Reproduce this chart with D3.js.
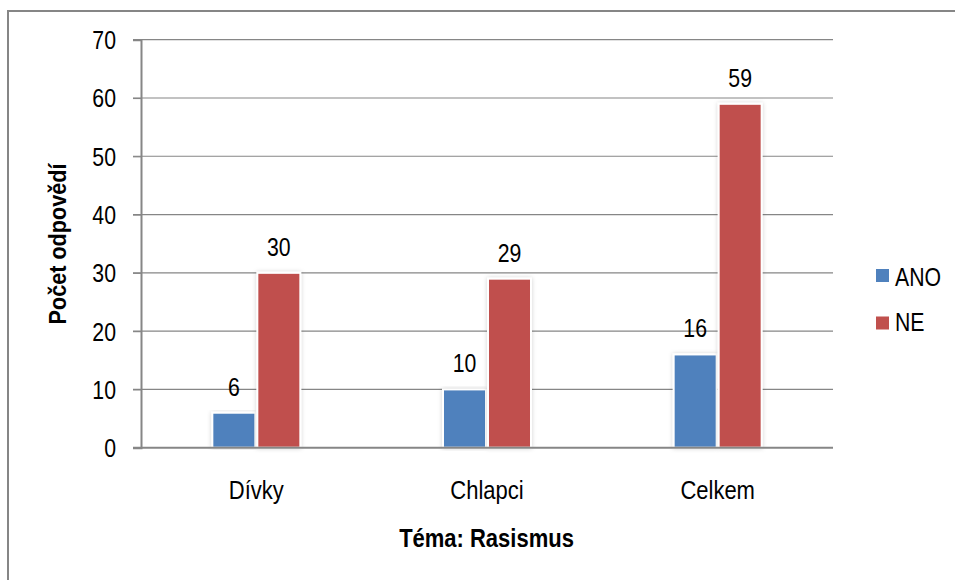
<!DOCTYPE html>
<html><head><meta charset="utf-8">
<script src="https://cdn.jsdelivr.net/npm/d3@7"></script>
<style>
body{margin:0;background:#fff;}
text{font-family:"Liberation Sans",Arial,sans-serif;fill:#000;}
</style></head><body>
<svg id="c" width="955" height="580"></svg>
<script>
const categories = ["Dívky","Chlapci","Celkem"];
const seriesNames = ["ANO","NE"];
const ano = [6,10,16];
const ne = [30,29,59];
const yTicks = [0,10,20,30,40,50,60,70];
const colors = ["#4F81BD","#C0504D"];

const SX = 0.85, FS = 25;
const svg = d3.select("#c");
function label(parent, x, y, str, anchor, opts={}){
  const g = parent.append("g").attr("transform",`translate(${x},${y})${opts.rot?" rotate("+opts.rot+")":""} scale(${opts.sx||SX},1)`);
  return g.append("text").attr("text-anchor",anchor).attr("dy","0.36em")
    .attr("font-size",opts.fs||FS).attr("font-weight",opts.bold?"bold":null).text(str);
}

svg.append("rect").attr("x",8).attr("y",11).attr("width",960).attr("height",600)
  .attr("fill","none").attr("stroke","#868686").attr("stroke-width",2);

const pLeft=141, pRight=833, pTop=39.7, pBottom=447.7;
const x = d3.scaleBand().domain(categories).range([pLeft,pRight]);
const y = d3.scaleLinear().domain([0,70]).range([pBottom,pTop]);
const xs = d3.scaleBand().domain(seriesNames).range([0,90]);

const defs = svg.append("defs");
const f = defs.append("filter").attr("id","sh").attr("x","-20%").attr("y","-5%").attr("width","140%").attr("height","110%");
f.append("feDropShadow").attr("dx",0).attr("dy",0).attr("stdDeviation",2).attr("flood-color","#000").attr("flood-opacity",0.18);

svg.append("g").selectAll("line").data(yTicks.filter(d=>d>0)).join("line")
  .attr("x1",pLeft-8).attr("x2",pRight).attr("y1",d=>y(d)).attr("y2",d=>y(d))
  .attr("stroke","#868686").attr("stroke-width",1.2);

const ya = svg.append("g").attr("transform",`translate(${pLeft},0)`)
  .call(d3.axisLeft(y).tickValues(yTicks).tickSize(8).tickPadding(25));
ya.select(".domain").attr("stroke","#868686").attr("stroke-width",2);
ya.selectAll(".tick line").attr("stroke","#868686").attr("stroke-width",1.2);
ya.selectAll(".tick text").attr("font-size",FS).attr("font-family",null).attr("dy","0.36em")
  .attr("x",0).attr("transform",`translate(-25,0) scale(${SX},1)`);

const data = categories.map((c,i)=>({c, vals:[ano[i],ne[i]]}));
const g = svg.append("g");
data.forEach(d=>{
  d.vals.forEach((v,j)=>{
    const bx = x(d.c)+x.bandwidth()/2-45+xs(seriesNames[j]);
    g.append("rect").attr("x",bx+1).attr("y",y(v)).attr("width",xs.bandwidth()-2)
      .attr("height",pBottom-y(v)).attr("fill",colors[j])
      .attr("stroke","#fff").attr("stroke-width",2).attr("filter","url(#sh)");
    label(g, bx+xs.bandwidth()/2, y(v)-26, v, "middle");
  });
});

svg.append("line").attr("x1",pLeft-8).attr("x2",pRight).attr("y1",pBottom).attr("y2",pBottom)
  .attr("stroke","#868686").attr("stroke-width",2);
const xl = svg.append("g");
categories.forEach(c=>label(xl, x(c)+x.bandwidth()/2, 489.5, c, "middle", {sx:0.88}));

label(svg, 57.5, 244, "Počet odpovědí", "middle", {rot:-90, bold:true, fs:24, sx:0.9});
label(svg, 486.5, 537.5, "Téma: Rasismus", "middle", {bold:true, sx:0.88});

const lg = svg.append("g");
seriesNames.forEach((s,i)=>{
  lg.append("rect").attr("x",876).attr("y",269+i*47.5).attr("width",13).attr("height",13).attr("fill",colors[i]);
  label(lg, 895, 276.5+i*45.5, s, "start");
});
</script></body></html>
